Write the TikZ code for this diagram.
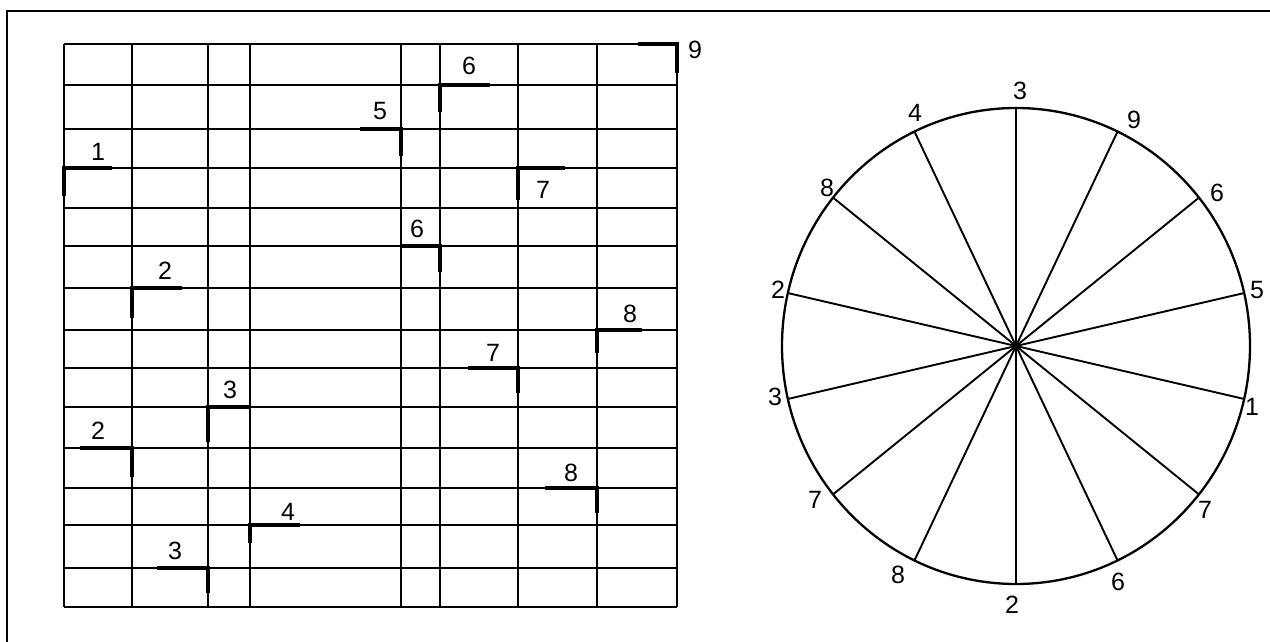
\documentclass[tikz,border=0pt]{standalone}
\usepackage{fontspec}
\setmainfont{Liberation Sans}
\begin{document}
\begin{tikzpicture}[x=1pt,y=-1pt,
  gridline/.style={line width=2.4pt,black},
  markline/.style={line width=4.8pt,black,line cap=butt},
  wheel/.style={line width=2.3pt,black},
  spoke/.style={line width=1.9pt,black},
  num/.style={font=\fontsize{25}{25}\selectfont,inner sep=0pt,anchor=center}]
\useasboundingbox (0,0) rectangle (1270,642);
\draw[line width=1.8pt] (7,11) rectangle (1280,655);
% grid
\foreach \xx in {64,132,208,250,401,440,518,597,677}
  \draw[gridline] (\xx,44) -- (\xx,607);
\foreach \yy in {44,85,129,168,208,246,288,330,368,407,448,488,525,568,607}
  \draw[gridline] (64,\yy) -- (677,\yy);
% thick L marks with labels
\foreach \cx/\cy/\hx/\vy/\lx/\ly/\t/\nm in {
  677/44/638/73/695/50/9/ma,
  440/85/490/112/469/66/6/mb,
  401/129/360/156/380/111/5/mc,
  64/168/112/196/98/152/1/md,
  518/168/565/200/543/190/7/me,
  440/246/401/272/417/229/6/mf,
  132/288/182/318/165/271/2/mg,
  597/330/642/353/630/314/8/mh,
  518/368/468/393/493/353/7/mi,
  208/407/250/442/230/390/3/mj,
  132/448/80/477/98/431/2/mk,
  597/488/545/513/571/473/8/ml,
  250/525/300/543/288/512/4/mm,
  208/568/157/593/175/551/3/mn}
{
  \coordinate (\nm c) at (\cx,\cy);
  \coordinate (\nm h) at (\hx,\cy);
  \coordinate (\nm v) at (\cx,\vy);
  \draw[markline] (\nm h) -- (\nm c) -- (\nm v);
  \node[num] (\nm) at (\lx,\ly) {\t};
}
% wheel
\coordinate (ctr) at (1016,346);
\draw[wheel] (ctr) ellipse[x radius=234, y radius=238];
\foreach \k in {0,...,13}
  \draw[spoke] (ctr) -- ++({90-\k*360/14}:234pt and 238pt);
% labels on wheel
\foreach \lx/\ly/\t/\nm in {
  1020/91/3/wa, 1134/120/9/wb, 1217/193/6/wc, 1257/290/5/wd,
  1252/407/1/we, 1205/510/7/wf, 1118/582/6/wg, 1012/605/2/wh,
  898/575/8/wi, 815/500/7/wj, 775/397/3/wk, 778/290/2/wl,
  827/188/8/wm, 915/113/4/wn}
  \node[num] (\nm) at (\lx,\ly) {\t};
\end{tikzpicture}
\end{document}
